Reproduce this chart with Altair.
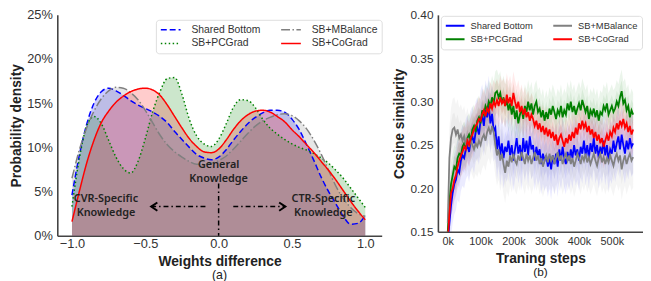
import altair as alt
import pandas as pd

# ---------------- panel (a): weight-difference densities (percent) ----------------
WD_X = [-1.00, -0.95, -0.90, -0.85, -0.80, -0.75, -0.70, -0.65, -0.60, -0.55,
        -0.50, -0.45, -0.40, -0.35, -0.30, -0.25, -0.20, -0.15, -0.10, -0.05,
        0.00, 0.05, 0.10, 0.15, 0.20, 0.25, 0.30, 0.35, 0.40, 0.45,
        0.50, 0.55, 0.60, 0.65, 0.70, 0.75, 0.80, 0.85, 0.90, 0.95, 1.00]
SB_DENS = [4.6, 9.1, 12.6, 15.0, 16.3, 16.7, 16.4, 15.9, 15.3, 14.8,
           14.4, 14.0, 13.5, 12.8, 11.8, 10.9, 10.0, 9.2, 8.8, 8.6,
           8.9, 9.7, 10.8, 11.8, 12.7, 13.4, 13.9, 14.2, 14.2, 14.0,
           13.2, 12.0, 10.3, 8.5, 6.6, 5.0, 3.6, 2.2, 1.3, 1.4, 2.3]
PC_DENS = [3.3, 8.7, 12.4, 13.5, 12.7, 10.8, 8.9, 7.6, 7.1, 8.4,
           11.0, 14.0, 16.3, 17.8, 17.9, 16.0, 13.2, 11.3, 10.4, 10.1,
           10.9, 12.6, 14.5, 15.4, 15.3, 14.5, 13.2, 12.2, 11.5, 10.9,
           10.4, 10.0, 9.7, 9.3, 8.8, 8.2, 7.4, 6.5, 5.4, 4.3, 3.2]
MB_DENS = [6.5, 9.7, 12.2, 14.1, 15.5, 16.4, 16.8, 16.7, 16.2, 15.4,
           14.2, 12.8, 11.4, 10.3, 9.5, 8.9, 8.4, 8.1, 8.1, 8.2,
           8.5, 9.0, 9.8, 10.7, 11.6, 12.4, 13.0, 13.4, 13.7, 13.8,
           13.6, 13.0, 12.1, 10.8, 9.2, 7.4, 5.6, 4.2, 3.2, 2.5, 2.2]
CO_DENS = [1.6, 5.0, 8.2, 10.8, 12.8, 14.1, 15.1, 15.8, 16.3, 16.6,
           16.7, 16.5, 15.9, 14.8, 13.5, 12.2, 11.0, 10.1, 9.5, 9.4,
           9.8, 10.8, 12.0, 13.0, 13.7, 14.1, 14.2, 14.0, 13.5, 12.9,
           12.0, 11.2, 10.3, 9.4, 8.4, 7.4, 6.3, 5.1, 3.9, 2.8, 1.8]

# draw order == legend column-major order (2 columns)
SERIES = ["Shared Bottom", "SB+PCGrad", "SB+MBalance", "SB+CoGrad"]
SERIES_COLORS = ["#0000ff", "#008000", "#808080", "#ff0000"]
SERIES_DASHES = [[6, 3], [1.5, 2.5], [9, 2.5, 1.5, 2.5], [1, 0]]
# fill scale domain in another order so its (hidden) legend is not merged with the line legend
FILL_ORDER = ["Shared Bottom", "SB+MBalance", "SB+PCGrad", "SB+CoGrad"]
FILL_COLORS = ["#0000ff", "#808080", "#008000", "#ff0000"]

# annotations (data units)
ANNO_TEXT = ["General", "Knowledge", "CVR-Specific", "Knowledge", "CTR-Specific", "Knowledge"]
ANNO_X = [0.0, 0.0, -0.768, -0.768, 0.714, 0.714]
ANNO_Y = [8.0, 6.4, 4.2, 2.6, 4.2, 2.6]
VLINE = {"x": [0.0], "y": [5.9], "y2": [0.0]}
ARROW_X = [-0.09, 0.10]
ARROW_X2 = [-0.46, 0.455]
ARROW_Y = [3.3, 3.3]

# ---------------- panel (b): cosine similarity over training ----------------
STEPS = list(range(0, 570000, 5000))
SB_COS = [0.135, 0.160, 0.180, 0.195, 0.205, 0.210, 0.222, 0.218, 0.232, 0.238,
          0.235, 0.245, 0.250, 0.242, 0.255, 0.260, 0.252, 0.265, 0.270, 0.262,
          0.278, 0.285, 0.272, 0.290, 0.282, 0.295, 0.275, 0.286, 0.266, 0.270,
          0.245, 0.260, 0.238, 0.252, 0.235, 0.248, 0.242, 0.255, 0.238, 0.250,
          0.232, 0.245, 0.258, 0.240, 0.250, 0.232, 0.258, 0.242, 0.255, 0.238,
          0.260, 0.245, 0.250, 0.232, 0.248, 0.238, 0.245, 0.228, 0.240, 0.232,
          0.238, 0.225, 0.235, 0.222, 0.238, 0.228, 0.240, 0.225, 0.245, 0.232,
          0.248, 0.235, 0.228, 0.242, 0.232, 0.245, 0.235, 0.250, 0.238, 0.245,
          0.232, 0.248, 0.240, 0.255, 0.238, 0.250, 0.235, 0.252, 0.242, 0.258,
          0.240, 0.250, 0.235, 0.248, 0.240, 0.255, 0.238, 0.250, 0.232, 0.245,
          0.240, 0.255, 0.242, 0.252, 0.260, 0.245, 0.262, 0.250, 0.240, 0.255,
          0.245, 0.258, 0.248, 0.252]
PC_COS = [0.150, 0.185, 0.205, 0.215, 0.225, 0.222, 0.235, 0.240, 0.238, 0.248,
          0.252, 0.248, 0.258, 0.262, 0.255, 0.268, 0.272, 0.265, 0.278, 0.282,
          0.275, 0.290, 0.285, 0.295, 0.290, 0.300, 0.295, 0.305, 0.298, 0.310,
          0.312, 0.305, 0.310, 0.298, 0.305, 0.295, 0.302, 0.290, 0.298, 0.285,
          0.295, 0.280, 0.290, 0.275, 0.285, 0.292, 0.280, 0.295, 0.288, 0.300,
          0.290, 0.298, 0.285, 0.295, 0.300, 0.288, 0.292, 0.282, 0.290, 0.278,
          0.288, 0.280, 0.292, 0.285, 0.295, 0.288, 0.280, 0.290, 0.285, 0.295,
          0.282, 0.290, 0.285, 0.298, 0.290, 0.300, 0.288, 0.295, 0.285, 0.292,
          0.298, 0.290, 0.302, 0.295, 0.288, 0.295, 0.280, 0.290, 0.285, 0.292,
          0.282, 0.290, 0.278, 0.288, 0.285, 0.295, 0.290, 0.298, 0.285, 0.290,
          0.295, 0.288, 0.292, 0.300, 0.295, 0.305, 0.312, 0.298, 0.302, 0.290,
          0.295, 0.282, 0.290, 0.285]
MB_COS = [0.160, 0.235, 0.258, 0.268, 0.270, 0.262, 0.268, 0.258, 0.262, 0.255,
          0.260, 0.250, 0.258, 0.248, 0.255, 0.250, 0.245, 0.252, 0.248, 0.255,
          0.250, 0.258, 0.262, 0.255, 0.265, 0.270, 0.262, 0.272, 0.265, 0.250,
          0.238, 0.245, 0.232, 0.240, 0.228, 0.218, 0.232, 0.225, 0.238, 0.230,
          0.240, 0.232, 0.228, 0.238, 0.232, 0.242, 0.235, 0.228, 0.240, 0.232,
          0.238, 0.228, 0.235, 0.242, 0.232, 0.238, 0.228, 0.235, 0.225, 0.232,
          0.238, 0.230, 0.240, 0.232, 0.238, 0.228, 0.235, 0.242, 0.232, 0.238,
          0.228, 0.235, 0.240, 0.232, 0.238, 0.228, 0.235, 0.225, 0.232, 0.240,
          0.235, 0.228, 0.238, 0.232, 0.240, 0.230, 0.236, 0.228, 0.234, 0.240,
          0.232, 0.226, 0.235, 0.240, 0.230, 0.236, 0.228, 0.235, 0.230, 0.238,
          0.232, 0.226, 0.235, 0.240, 0.232, 0.238, 0.222, 0.232, 0.238, 0.228,
          0.235, 0.240, 0.232, 0.236]
CO_COS = [0.140, 0.170, 0.195, 0.200, 0.210, 0.215, 0.225, 0.232, 0.238, 0.242,
          0.248, 0.245, 0.255, 0.250, 0.258, 0.262, 0.268, 0.272, 0.275, 0.280,
          0.278, 0.285, 0.290, 0.283, 0.292, 0.288, 0.298, 0.292, 0.300, 0.295,
          0.302, 0.295, 0.305, 0.298, 0.302, 0.295, 0.308, 0.298, 0.305, 0.295,
          0.310, 0.300, 0.292, 0.300, 0.288, 0.295, 0.285, 0.292, 0.282, 0.288,
          0.278, 0.285, 0.280, 0.272, 0.278, 0.268, 0.275, 0.265, 0.272, 0.262,
          0.270, 0.260, 0.268, 0.258, 0.265, 0.255, 0.262, 0.250, 0.258, 0.262,
          0.255, 0.248, 0.258, 0.252, 0.262, 0.255, 0.265, 0.258, 0.270, 0.262,
          0.275, 0.268, 0.278, 0.270, 0.275, 0.265, 0.272, 0.262, 0.268, 0.258,
          0.265, 0.255, 0.262, 0.252, 0.258, 0.248, 0.255, 0.262, 0.255, 0.265,
          0.260, 0.270, 0.265, 0.275, 0.268, 0.278, 0.272, 0.280, 0.270, 0.275,
          0.265, 0.272, 0.262, 0.268]
SPREAD = {"Shared Bottom": 0.035, "SB+PCGrad": 0.025, "SB+MBalance": 0.035, "SB+CoGrad": 0.025}

FONT = "Liberation Sans"

# ---------------- build tables ----------------
dens = pd.DataFrame({
    "x": WD_X * 4,
    "y": SB_DENS + PC_DENS + MB_DENS + CO_DENS,
    "series": sum([[s] * len(WD_X) for s in SERIES], []),
})
cos_vals = {"Shared Bottom": SB_COS, "SB+PCGrad": PC_COS, "SB+MBalance": MB_COS, "SB+CoGrad": CO_COS}
cos = pd.concat([
    pd.DataFrame({"step": STEPS, "v": cos_vals[s], "series": s}) for s in SERIES
], ignore_index=True)
cos["lo"] = cos["v"] - cos["series"].map(SPREAD)
cos["hi"] = cos["v"] + cos["series"].map(SPREAD)
cos["lo2"] = cos["v"] - cos["series"].map(SPREAD) * 0.5
cos["hi2"] = cos["v"] + cos["series"].map(SPREAD) * 0.5

anno = pd.DataFrame({"t": ANNO_TEXT, "x": ANNO_X, "y": ANNO_Y})
vline = pd.DataFrame(VLINE)
arrows = pd.DataFrame({"x": ARROW_X, "x2": ARROW_X2, "y": ARROW_Y})

fill_scale = alt.Scale(domain=FILL_ORDER, range=FILL_COLORS)

# ---------------- panel (a) ----------------
xa = alt.X("x:Q", scale=alt.Scale(domain=[-1.1, 1.112], nice=False, zero=False),
           axis=alt.Axis(values=[-1, -0.5, 0, 0.5, 1], format=".1f", title="Weights difference",
                         labelFontSize=13, labelPadding=2, titlePadding=4, titleFontSize=14))
ya = alt.Y("y:Q", scale=alt.Scale(domain=[0, 25], nice=False),
           axis=alt.Axis(values=[0, 5, 10, 15, 20, 25], labelExpr="datum.value + '%'",
                         title="Probability density", labelFontSize=13, labelPadding=5,
                         titlePadding=3, titleFontSize=14))

leg_a = alt.Legend(title=None, orient="none", legendX=100, legendY=5, columns=2,
                   symbolType="stroke", symbolSize=400, symbolStrokeWidth=1.5, clipHeight=12,
                   labelFont=FONT, labelFontSize=10.5, labelColor="#333", labelOffset=10,
                   columnPadding=19, rowPadding=2, padding=4, strokeColor="#dddddd",
                   fillColor="white", cornerRadius=3)
color_a = alt.Color("series:N", scale=alt.Scale(domain=SERIES, range=SERIES_COLORS), legend=leg_a)
dash_a = alt.StrokeDash("series:N", scale=alt.Scale(domain=SERIES, range=SERIES_DASHES), legend=leg_a)
fill_a = alt.Fill("series:N", scale=fill_scale, legend=None)

base_a = alt.Chart(dens)
areas = [base_a.transform_filter(alt.datum.series == s)
         .mark_area(interpolate="monotone", fillOpacity=0.2)
         .encode(x=xa, y=ya, fill=fill_a) for s in SERIES]
lines = [base_a.transform_filter(alt.datum.series == s)
         .mark_line(interpolate="monotone", strokeWidth=1.5)
         .encode(x=xa, y=ya, color=color_a, strokeDash=dash_a) for s in SERIES]

texts = alt.Chart(anno).mark_text(font="Noto Sans", fontWeight=600, fontSize=11,
                                  color="#222", align="center", baseline="middle").encode(
    x="x:Q", y="y:Q", text="t:N")
vrule = alt.Chart(vline).mark_rule(color="black", strokeWidth=1.5, strokeDash=[5, 3, 1.5, 3]).encode(
    x="x:Q", y="y:Q", y2="y2:Q")
arule = alt.Chart(arrows).mark_rule(color="black", strokeWidth=1.5, strokeDash=[5, 3, 1.5, 3]).encode(
    x="x:Q", x2="x2:Q", y="y:Q")
heads_l = alt.Chart(arrows).transform_filter(alt.datum.x2 < 0).mark_point(
    shape="M1.5,-1L0,0L1.5,1", filled=False, size=70, strokeWidth=2, color="black", opacity=1).encode(
    x="x2:Q", y="y:Q")
heads_r = alt.Chart(arrows).transform_filter(alt.datum.x2 > 0).mark_point(
    shape="M-1.5,-1L0,0L-1.5,1", filled=False, size=70, strokeWidth=2, color="black", opacity=1).encode(
    x="x2:Q", y="y:Q")

left = alt.layer(*areas, *lines, vrule, arule, heads_l, heads_r, texts).properties(
    width=329, height=224,
    title=alt.TitleParams("(a)", orient="bottom", anchor="middle", fontSize=12.5,
                          fontWeight="normal", font=FONT, color="#222", offset=1))

# ---------------- panel (b) ----------------
xb = alt.X("step:Q", scale=alt.Scale(domain=[-30000, 595000], nice=False, zero=False),
           axis=alt.Axis(values=[0, 100000, 200000, 300000, 400000, 500000],
                         labelExpr="datum.value / 1000 + 'k'", title="Traning steps",
                         labelFontSize=11, labelPadding=4, titlePadding=5, titleFontSize=14))
yscale_b = alt.Scale(domain=[0.15, 0.40], nice=False, zero=False)
yb = alt.Y("v:Q", scale=yscale_b,
           axis=alt.Axis(values=[0.15, 0.20, 0.25, 0.30, 0.35, 0.40], format=".2f",
                         title="Cosine similarity", labelFontSize=12, labelPadding=5,
                         titlePadding=4, titleFontSize=14))
leg_b = alt.Legend(title=None, orient="none", legendX=3, legendY=1, columns=2,
                   symbolType="stroke", symbolSize=361, symbolStrokeWidth=2, clipHeight=11.5,
                   labelFont=FONT, labelFontSize=9.5, labelColor="#333", labelOffset=5,
                   columnPadding=19, rowPadding=2, padding=4, strokeColor="#dddddd",
                   fillColor="white", cornerRadius=3)
color_b = alt.Color("series:N", scale=alt.Scale(domain=SERIES, range=SERIES_COLORS), legend=leg_b)
fill_b = alt.Fill("series:N", scale=fill_scale, legend=None)

base_b = alt.Chart(cos)
bands = []
for s in SERIES:
    f = base_b.transform_filter(alt.datum.series == s)
    bands.append(f.mark_area(fillOpacity=0.08, clip=True).encode(
        x=xb, y=alt.Y("lo:Q", scale=yscale_b), y2="hi:Q", fill=fill_b))
    bands.append(f.mark_area(fillOpacity=0.08, clip=True).encode(
        x=xb, y=alt.Y("lo2:Q", scale=yscale_b), y2="hi2:Q", fill=fill_b))
lines_b = [base_b.transform_filter(alt.datum.series == s)
           .mark_line(strokeWidth=1.8, clip=True)
           .encode(x=xb, y=yb, color=color_b) for s in SERIES]

right = alt.layer(*bands, *lines_b).properties(
    width=208, height=220,
    title=alt.TitleParams("(b)", orient="bottom", anchor="middle", fontSize=12,
                          fontWeight="normal", font=FONT, color="#222", offset=2))

chart = alt.hconcat(left, right, spacing=9).resolve_scale(
    color="independent", fill="independent", strokeDash="independent"
).properties(
    padding={"left": 1, "top": -1, "right": 0, "bottom": 0}
).configure_view(stroke=None).configure_axis(
    domainColor="#444", domainWidth=1.6, ticks=False, grid=False, labelFlush=False,
    labelFont=FONT, labelColor="#333", titleFont=FONT, titleFontWeight="bold", titleColor="#222"
)

chart.save("out.html", embed_options={"renderer": "svg", "actions": False})
